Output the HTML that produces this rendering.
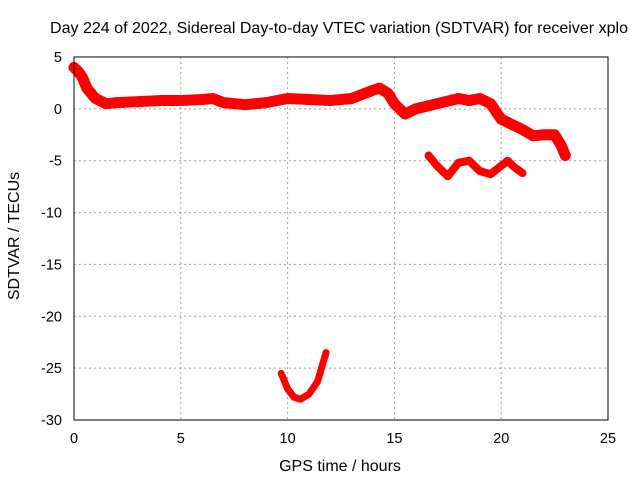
<!DOCTYPE html>
<html><head><meta charset="utf-8"><style>
body{margin:0;background:#fff}
svg{display:block;font-family:"Liberation Sans",sans-serif;font-size:14.5px}
</style></head><body>
<svg id="chart" width="640" height="480">
<text x="50" y="33" textLength="578" lengthAdjust="spacingAndGlyphs" font-size="16">Day 224 of 2022, Sidereal Day-to-day VTEC variation (SDTVAR) for receiver xplo</text>
<g id="grid"></g><g id="ticks"></g><g id="series"></g>
<rect x="74" y="57" width="534" height="363" fill="none" stroke="#000" stroke-width="1"/>
<text x="340" y="471" text-anchor="middle" font-size="16">GPS time / hours</text>
<text transform="translate(19,236) rotate(-90)" text-anchor="middle" font-size="16">SDTVAR / TECUs</text>
</svg>
<script>
const xTicks=[0,5,10,15,20,25];
const yTicks=[5,0,-5,-10,-15,-20,-25,-30];
const mainT=[0,0.2,0.4,0.6,1,1.5,2,3,4,5,6,6.5,7,8,9,10,11,12,13,14,14.3,14.7,15,15.5,16,17,18,18.5,19,19.5,20,20.5,21,21.5,22,22.5,22.8,23];
const mainV=[4,3.6,3,2,1,0.5,0.6,0.7,0.8,0.8,0.9,1,0.6,0.4,0.6,1,0.9,0.8,1,1.8,2,1.5,0.5,-0.5,0,0.5,1,0.8,1,0.5,-1,-1.5,-2,-2.6,-2.5,-2.5,-3.5,-4.5];
const midT=[16.6,17,17.5,18,18.5,19,19.5,20,20.3,20.6,21];
const midV=[-4.5,-5.5,-6.5,-5.2,-5,-6,-6.3,-5.5,-5,-5.6,-6.2];
const lowT=[9.7,10,10.3,10.6,11,11.4,11.8];
const lowV=[-25.5,-27,-27.8,-28,-27.5,-26.3,-23.5];
const NS='http://www.w3.org/2000/svg';
const X=t=>74+t*534/25, Y=v=>57+(5-v)*363/35;
const grid=document.getElementById('grid'),ticks=document.getElementById('ticks'),ser=document.getElementById('series');
function mk(tag,attrs,p){const e=document.createElementNS(NS,tag);for(const k in attrs)e.setAttribute(k,attrs[k]);p.appendChild(e);return e;}
xTicks.forEach(t=>{
 if(t>0&&t<25){const g=mk('line',{x1:X(t),x2:X(t),y1:57,y2:420,stroke:'#a0a0a0','stroke-dasharray':'2,3'},grid);
 
 }
 const l=mk('text',{x:X(t),y:443,'text-anchor':'middle'},ticks);l.textContent=t;
 
 
});
yTicks.forEach(v=>{
 if(v<5&&v>-30){const g=mk('line',{x1:74,x2:608,y1:Y(v),y2:Y(v),stroke:'#a0a0a0','stroke-dasharray':'2,3'},grid);
 
 }
 const l=mk('text',{x:62,y:Y(v)+5,'text-anchor':'end'},ticks);l.textContent=v;
 
 
});
function line(T,V,w,name){
 const p=mk('polyline',{points:T.map((t,i)=>X(t)+','+Y(V[i])).join(' '),fill:'none',stroke:'#f00','stroke-width':w,'stroke-linejoin':'round','stroke-linecap':'round'},ser);
 
 
}
line(mainT,mainV,11,'series-main');
line(midT,midV,8,'series-mid');
line(lowT,lowV,7,'series-low');
</script>
</body></html>
